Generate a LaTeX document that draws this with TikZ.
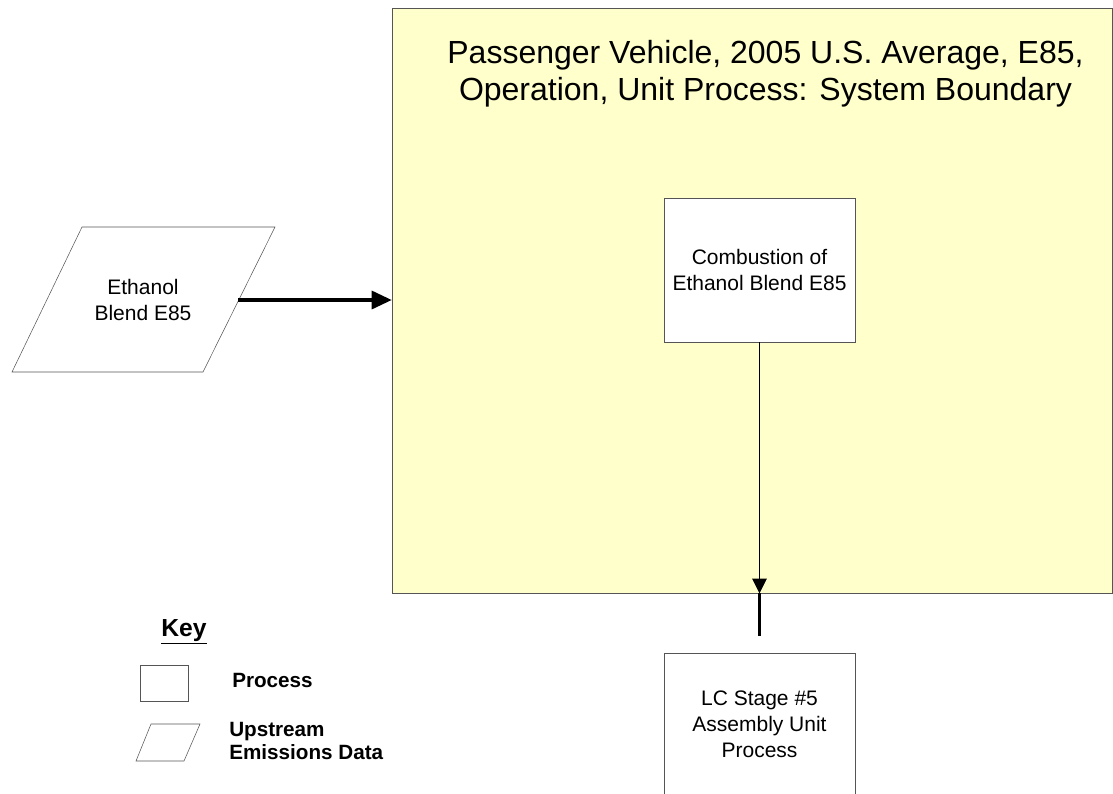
\documentclass[tikz,border=0pt]{standalone}
\usepackage{fontspec}
\setmainfont{Liberation Sans}
\usetikzlibrary{arrows.meta,positioning}
\definecolor{boundfill}{HTML}{FFFFCC}
\definecolor{edgegray}{HTML}{555555}
\tikzset{
  procbox/.style={draw=edgegray, fill=white, inner sep=0pt, align=center,
    minimum width=143.25pt, font=\fontsize{15.75}{19.5}\selectfont},
  labeltext/.style={inner sep=0pt, align=center, font=\fontsize{15.75}{19.5}\selectfont},
  keytext/.style={inner sep=0pt, align=left, anchor=west, font=\bfseries\fontsize{15.5}{17}\selectfont},
  thickflow/.style={line width=2.4pt, -{Triangle[length=15pt,width=13.5pt]}},
  thinflow/.style={line width=0.6pt, -{Triangle[length=11pt,width=11pt]}}
}
\begin{document}
\begin{tikzpicture}[x=0.75pt, y=-0.75pt]
    \clip (0,0) rectangle (1113,793);
    \useasboundingbox (0,0) rectangle (1113,793);

    % System boundary
    \node[draw=edgegray, fill=boundfill, inner sep=0pt, minimum width=540pt,
      minimum height=438.75pt] (boundary) at (752,300.5) {};
    \node[inner sep=0pt, align=center, font=\fontsize{24}{27.75}\selectfont]
      (title) at (765.5,73.5) {Passenger Vehicle, 2005 U.S. Average, E85,\\Operation, Unit Process: System Boundary};

    % Processes
    \node[procbox, minimum height=108pt] (combustion) at (759.5,270) {Combustion of\\Ethanol Blend E85};
    \node[procbox, minimum height=106.5pt] (assembly) at (759.5,724) {LC Stage \#5\\Assembly Unit\\Process};

    % Upstream emissions data
    \draw[edgegray] (82,227) -- (275,227) -- (203,372) -- (12,372) -- cycle;
    \node[labeltext] (ethanol) at (143,300) {Ethanol\\Blend E85};
    \coordinate (ethanol out) at (238,300);

    % Flows
    \draw[thickflow] (ethanol out) -- (boundary.west |- ethanol out);
    \coordinate (boundary out) at (boundary.south -| combustion.south);
    \draw[thinflow] (combustion.south) -- (boundary out);
    \draw[line width=2.4pt, shorten >=12.75pt] (boundary out) -- (assembly.north);

    % Key
    \node[inner sep=0pt, font=\bfseries\fontsize{18.5}{20}\selectfont] (key) at (184,632) {\underline{Key}};
    \draw[edgegray] (140,665) rectangle (188,701);
    \node[keytext] (key process) at (232,680) {Process};
    \draw[edgegray] (151,724) -- (200,724) -- (184,761) -- (136,761) -- cycle;
    \node[keytext] (key upstream) at (229,741) {Upstream\\Emissions Data};
\end{tikzpicture}
\end{document}
